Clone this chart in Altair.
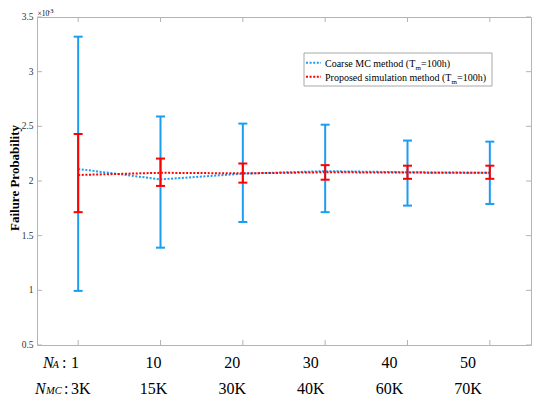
import altair as alt
import pandas as pd

# ---------------- data (probability in units of 1e-3) ----------------
idx = [1, 2, 3, 4, 5, 6]
na_labels = ["1", "10", "20", "30", "40", "50"]
nmc_labels = ["3K", "15K", "30K", "40K", "60K", "70K"]

mc_mean = [2.11, 2.015, 2.067, 2.09, 2.08, 2.075]
mc_low = [0.995, 1.39, 1.625, 1.715, 1.775, 1.79]
mc_high = [3.32, 2.59, 2.525, 2.515, 2.37, 2.36]

pr_mean = [2.055, 2.075, 2.07, 2.08, 2.077, 2.075]
pr_low = [1.715, 1.955, 1.985, 2.012, 2.02, 2.02]
pr_high = [2.43, 2.205, 2.16, 2.145, 2.14, 2.14]

y_ticks = [0.5, 1.0, 1.5, 2.0, 2.5, 3.0, 3.5]
y_tick_labels = ["0.5", "1", "1.5", "2", "2.5", "3", "3.5"]

y_title = "Failure Probability"
mc_name = "Coarse MC method (T"
pr_name = "Proposed simulation method (T"

# ---------------- styling ----------------
SERIF = "'Liberation Serif', 'Times New Roman', 'DejaVu Serif', serif"
BLUE = "#1B9DF2"
RED = "#FF0000"
FRAME = "#B4B4B4"
W, H = 494, 328

xs = alt.Scale(domain=[0.5, 6.5], nice=False, zero=False)
ys = alt.Scale(domain=[0.5, 3.5], nice=False, zero=False)
lx = alt.Scale(domain=[0.518, 6.8], nice=False, zero=False)


def X(f="idx"):
    return alt.X(f"{f}:Q", scale=xs, axis=None)


def Y(f):
    return alt.Y(f"{f}:Q", scale=ys, axis=None)


def series_df(mean, low, high):
    return pd.DataFrame({"idx": idx, "mean": mean, "low": low, "high": high})


mc = series_df(mc_mean, mc_low, mc_high)
pr = series_df(pr_mean, pr_low, pr_high)
one = pd.DataFrame({"k": [0]})


def lines(df, color):
    return alt.Chart(df).mark_line(color=color, strokeWidth=2, strokeDash=[2, 1.6]).encode(
        x=X(), y=Y("mean"))


def bars(df, color):
    bar = alt.Chart(df).mark_rule(color=color, strokeWidth=2).encode(
        x=X(), y=Y("low"), y2="high")
    lo = alt.Chart(df).mark_rule(color=color, strokeWidth=2, xOffset=-4.5, x2Offset=4.5).encode(
        x=X(), x2="idx", y=Y("low"))
    hi = alt.Chart(df).mark_rule(color=color, strokeWidth=2, xOffset=-4.5, x2Offset=4.5).encode(
        x=X(), x2="idx", y=Y("high"))
    return [bar, lo, hi]


ytdf = pd.DataFrame({"v": y_ticks, "lab": y_tick_labels})
xtdf = pd.DataFrame({"idx": idx})

ytick_l = alt.Chart(ytdf).mark_rule(color=FRAME).encode(
    y=Y("v"), x=alt.value(0), x2=alt.value(5))
ytick_r = alt.Chart(ytdf).mark_rule(color=FRAME).encode(
    y=Y("v"), x=alt.value(W - 5), x2=alt.value(W))
ytick_lab = alt.Chart(ytdf).mark_text(font=SERIF, fontSize=9.5, color="#333333", align="right",
                                      baseline="middle").encode(
    y=Y("v"), x=alt.value(-3.5), text="lab:N")
xtick_b = alt.Chart(xtdf).mark_rule(color=FRAME).encode(
    x=X(), y=alt.value(H - 5), y2=alt.value(H))
xtick_t = alt.Chart(xtdf).mark_rule(color=FRAME).encode(
    x=X(), y=alt.value(0), y2=alt.value(5))


def txt(s, x, y, size, **kw):
    return alt.Chart(one).mark_text(font=SERIF, fontSize=size, color="black", align="left",
                                    baseline="alphabetic", **kw).encode(
        x=alt.value(x), y=alt.value(y), text=alt.value(s))


title = alt.Chart(one).mark_text(font=SERIF, fontSize=13, fontWeight="bold", color="black",
                                 angle=270, align="center", baseline="middle").encode(
    x=alt.value(-22), y=alt.value(161), text=alt.value(y_title))

# exponent label
expo = [txt("×10", 0.5, -1.5, 7.5), txt("-3", 11, -4.3, 6.5)]

# legend
leg_box = alt.Chart(one).mark_rect(fill="white", stroke="#A8A8A8", strokeWidth=1).encode(
    x=alt.value(267), x2=alt.value(455), y=alt.value(36), y2=alt.value(69))
leg_mc = alt.Chart(one).mark_rule(color=BLUE, strokeWidth=2, strokeDash=[2, 1.6]).encode(
    x=alt.value(269), x2=alt.value(284), y=alt.value(45.7))
leg_pr = alt.Chart(one).mark_rule(color=RED, strokeWidth=2, strokeDash=[2, 1.6]).encode(
    x=alt.value(269), x2=alt.value(284), y=alt.value(59.7))
leg_txt = [
    txt(mc_name, 288, 49.5, 10), txt("m", 378.5, 52.5, 7), txt("=100h)", 384, 49.5, 10),
    txt(pr_name, 288, 63.5, 10), txt("m", 414.5, 66.5, 7), txt("=100h)", 420, 63.5, 10),
]

data_layer = alt.layer(
    ytick_l, ytick_r, xtick_b, xtick_t, ytick_lab, title,
    lines(mc, BLUE), lines(pr, RED),
    *bars(mc, BLUE), *bars(pr, RED),
    leg_box, leg_mc, leg_pr, *leg_txt, *expo,
)

# custom two-row x labels
lab = pd.DataFrame({"idx": idx, "na": na_labels, "nmc": nmc_labels})
LX = alt.X("idx:Q", scale=lx, axis=None)
row1 = alt.Chart(lab).mark_text(font=SERIF, fontSize=16, color="black", align="center",
                                baseline="alphabetic").encode(
    x=LX, y=alt.value(350.5), text="na:N")
row2 = alt.Chart(lab).transform_filter("datum.idx > 1").mark_text(
    font=SERIF, fontSize=16, color="black", align="center", baseline="alphabetic").encode(
    x=LX, y=alt.value(377.3), text="nmc:N")
row2a = alt.Chart(lab).transform_filter("datum.idx == 1").mark_text(
    font=SERIF, fontSize=16, color="black", align="left", baseline="alphabetic", dx=-4).encode(
    x=LX, y=alt.value(377.3), text="nmc:N")
prefix = [
    txt("N", 6, 350.5, 16, fontStyle="italic"),
    txt("A", 15.5, 350.5, 10.5, fontStyle="italic"),
    txt(":", 25, 350.5, 16),
    txt("N", -2, 377.3, 16, fontStyle="italic"),
    txt("MC", 9, 377.3, 10.5, fontStyle="italic"),
    txt(":", 27, 377.3, 16),
]
label_layer = alt.layer(row1, row2, row2a, *prefix)

chart = alt.layer(data_layer, label_layer).resolve_scale(x="independent").properties(
    width=W, height=H,
    padding={"left": 29, "top": 9, "right": 8, "bottom": 52},
    autosize=alt.AutoSizeParams(type="none"),
    background="white",
).configure_view(stroke=FRAME, strokeWidth=1)

chart.save("out.html", embed_options={"renderer": "svg", "actions": False})
